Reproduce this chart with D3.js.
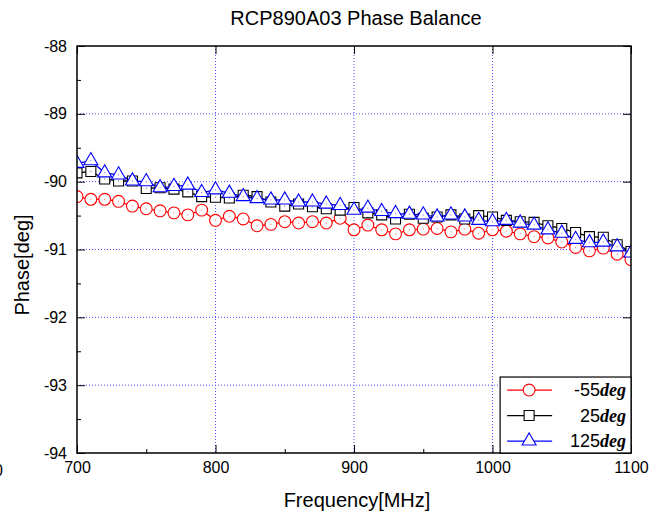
<!DOCTYPE html>
<html>
<head>
<meta charset="utf-8">
<title>RCP890A03 Phase Balance</title>
<style>
	body { margin: 0; background: #fff; }
	text { font-family: "Liberation Sans", Arial, sans-serif; }
</style>
</head>
<body>
<svg width="665" height="514"></svg>
<script src="https://cdn.jsdelivr.net/npm/d3@7"></script>
<script>
// frequency points carrying markers (MHz)
const freq = [700, 710, 720, 730, 740, 750, 760, 770, 780, 790,
	800, 810, 820, 830, 840, 850, 860, 870, 880, 890,
	900, 910, 920, 930, 940, 950, 960, 970, 980, 990,
	1000, 1010, 1020, 1030, 1040, 1050, 1060, 1070, 1080, 1090, 1100]

// phase [deg] for each temperature
const phaseM55 = [-90.22, -90.26, -90.26, -90.29, -90.36, -90.40, -90.43, -90.46, -90.49, -90.42,
	-90.57, -90.51, -90.55, -90.65, -90.63, -90.59, -90.61, -90.59, -90.61, -90.54,
	-90.71, -90.64, -90.71, -90.77, -90.71, -90.70, -90.69, -90.74, -90.70, -90.76,
	-90.71, -90.73, -90.77, -90.81, -90.83, -90.89, -90.97, -91.02, -90.98, -91.07, -91.15]
const phase25 = [-89.87, -89.85, -89.96, -89.99, -89.99, -90.10, -90.09, -90.11, -90.15, -90.22,
	-90.23, -90.24, -90.20, -90.22, -90.30, -90.36, -90.33, -90.37, -90.40, -90.42,
	-90.38, -90.46, -90.49, -90.55, -90.48, -90.54, -90.52, -90.49, -90.55, -90.50,
	-90.52, -90.57, -90.59, -90.60, -90.65, -90.69, -90.75, -90.81, -90.82, -90.93, -91.03]
const phase125 = [-89.73, -89.69, -89.87, -89.90, -89.99, -90.00, -90.09, -90.07, -90.05, -90.16,
	-90.12, -90.17, -90.22, -90.25, -90.27, -90.27, -90.30, -90.30, -90.33, -90.35,
	-90.42, -90.39, -90.44, -90.47, -90.48, -90.49, -90.52, -90.49, -90.52, -90.57,
	-90.59, -90.57, -90.61, -90.64, -90.71, -90.76, -90.85, -90.90, -90.89, -90.96, -91.05]

const seriesNames = ["-55", "25", "125"]
const xTicks = [700, 800, 900, 1000, 1100]
const xMinor = [750, 850, 950, 1050]
const yTicks = [-94, -93, -92, -91, -90, -89, -88]
const yMinor = [-93.5, -92.5, -91.5, -90.5, -89.5, -88.5]

const svg = d3.select("svg")
const m = { left: 77, top: 46, right: 34, bottom: 61 }
const W = 665 - m.left - m.right, H = 514 - m.top - m.bottom

const x = d3.scaleLinear().domain([700, 1100]).range([0, W])
const y = d3.scaleLinear().domain([-94, -88]).range([H, 0])
const fmt = d => String(d)   // plain hyphen minus, no thousands comma

const g = svg.append("g").attr("transform", `translate(${m.left},${m.top})`)

svg.append("defs").append("clipPath").attr("id", "clip")
	.append("rect").attr("width", W).attr("height", H)

// dotted grid
g.append("g").selectAll("line").data(xTicks.slice(1, -1)).enter().append("line")
	.attr("x1", d => x(d)).attr("x2", d => x(d)).attr("y1", 0).attr("y2", H)
	.attr("stroke", "#5050ff").attr("stroke-dasharray", "1,2")
g.append("g").selectAll("line").data(yTicks.slice(1, -1)).enter().append("line")
	.attr("y1", d => y(d)).attr("y2", d => y(d)).attr("x1", 0).attr("x2", W)
	.attr("stroke", "#5050ff").attr("stroke-dasharray", "1,2")

// axes, ticks pointing inward
const ax = (sel) => { sel.select(".domain").remove(); sel.selectAll("text").attr("font-size", 16).attr("fill", "#000") }
g.append("g").attr("transform", `translate(0,${H})`)
	.call(d3.axisBottom(x).tickValues(xTicks).tickFormat(fmt).tickSizeInner(-8).tickSizeOuter(0).tickPadding(9)).call(ax)
g.append("g").attr("transform", `translate(0,${H})`)
	.call(d3.axisBottom(x).tickValues(xMinor).tickSizeInner(-4).tickSizeOuter(0).tickFormat("")).call(ax)
g.append("g")
	.call(d3.axisLeft(y).tickValues(yTicks).tickFormat(fmt).tickSizeInner(-8).tickSizeOuter(0).tickPadding(10)).call(ax)
g.append("g")
	.call(d3.axisLeft(y).tickValues(yMinor).tickSizeInner(-4).tickSizeOuter(0).tickFormat("")).call(ax)
g.append("g")
	.call(d3.axisTop(x).tickValues(xTicks).tickSizeInner(-8).tickSizeOuter(0).tickFormat("")).call(ax)
g.append("g").attr("transform", `translate(${W},0)`)
	.call(d3.axisRight(y).tickValues(yTicks).tickSizeInner(-8).tickSizeOuter(0).tickFormat("")).call(ax)

// series
const series = [
	{ vals: phaseM55, color: "#ff0000", shape: "circle" },
	{ vals: phase25, color: "#000000", shape: "square" },
	{ vals: phase125, color: "#0000ff", shape: "triangle" }
]
const sym = {
	circle: d3.symbol(d3.symbolCircle, 110),
	square: d3.symbol(d3.symbolSquare, 100),
	triangle: d3.symbol(d3.symbolTriangle, 85)
}
const line = d3.line().x((d, i) => x(freq[i])).y(d => y(d))
const plot = g.append("g").attr("clip-path", "url(#clip)")

series.forEach(s => {
	plot.append("path").datum(s.vals).attr("d", line)
		.attr("fill", "none").attr("stroke", s.color).attr("stroke-width", 1.3)
})
series.forEach(s => {
	const mk = plot.append("g")
	mk.selectAll("path").data(s.vals).enter().append("path")
		.attr("d", sym[s.shape])
		.attr("transform", (d, i) => `translate(${x(freq[i])},${y(d)})`)
		.attr("fill", "#fff").attr("stroke", s.color).attr("stroke-width", 1.1)
	mk.selectAll("rect").data(s.vals).enter().append("rect")
		.attr("x", (d, i) => x(freq[i]) - 0.5).attr("y", d => y(d) - 0.5)
		.attr("width", 1).attr("height", 1).attr("fill", s.color).attr("opacity", 0.6)
})

// frame
g.append("rect").attr("width", W).attr("height", H)
	.attr("fill", "none").attr("stroke", "#000").attr("stroke-width", 1.5)

// legend
const lx = x(1005.5), ly = y(-92.88)
const lg = g.append("g").attr("transform", `translate(${lx},${ly})`)
const lw = W - lx, lh = H - ly
lg.append("rect").attr("width", lw).attr("height", lh)
	.attr("fill", "#fff").attr("stroke", "#000").attr("stroke-width", 1.2)
series.forEach((s, i) => {
	const row = lg.append("g").attr("transform", `translate(0,${13 + i * 25.5})`)
	row.append("line").attr("x1", 7).attr("x2", 52).attr("stroke", s.color).attr("stroke-width", 1.3)
	row.append("path").attr("d", sym[s.shape]).attr("transform", "translate(29,0)")
		.attr("fill", "#fff").attr("stroke", s.color).attr("stroke-width", 1.1)
	const t = row.append("text").attr("x", lw - 5).attr("y", 6)
		.attr("text-anchor", "end").attr("font-size", 18)
	t.append("tspan").text(seriesNames[i])
	t.append("tspan").text("deg")
		.attr("font-family", "'Liberation Serif', 'Times New Roman', serif")
		.attr("font-style", "italic").attr("font-weight", "bold")
})

// titles
svg.append("text").attr("x", 356).attr("y", 25).attr("text-anchor", "middle")
	.attr("font-size", 20).text("RCP890A03 Phase Balance")
svg.append("text").attr("x", 357).attr("y", 507).attr("text-anchor", "middle")
	.attr("font-size", 20).text("Frequency[MHz]")
svg.append("text").attr("transform", "translate(29,265) rotate(-90)").attr("text-anchor", "middle")
	.attr("font-size", 20).text("Phase[deg]")
svg.append("text").attr("x", 3).attr("y", 476).attr("text-anchor", "end")
	.attr("font-size", 16).text("0")
</script>
</body>
</html>
